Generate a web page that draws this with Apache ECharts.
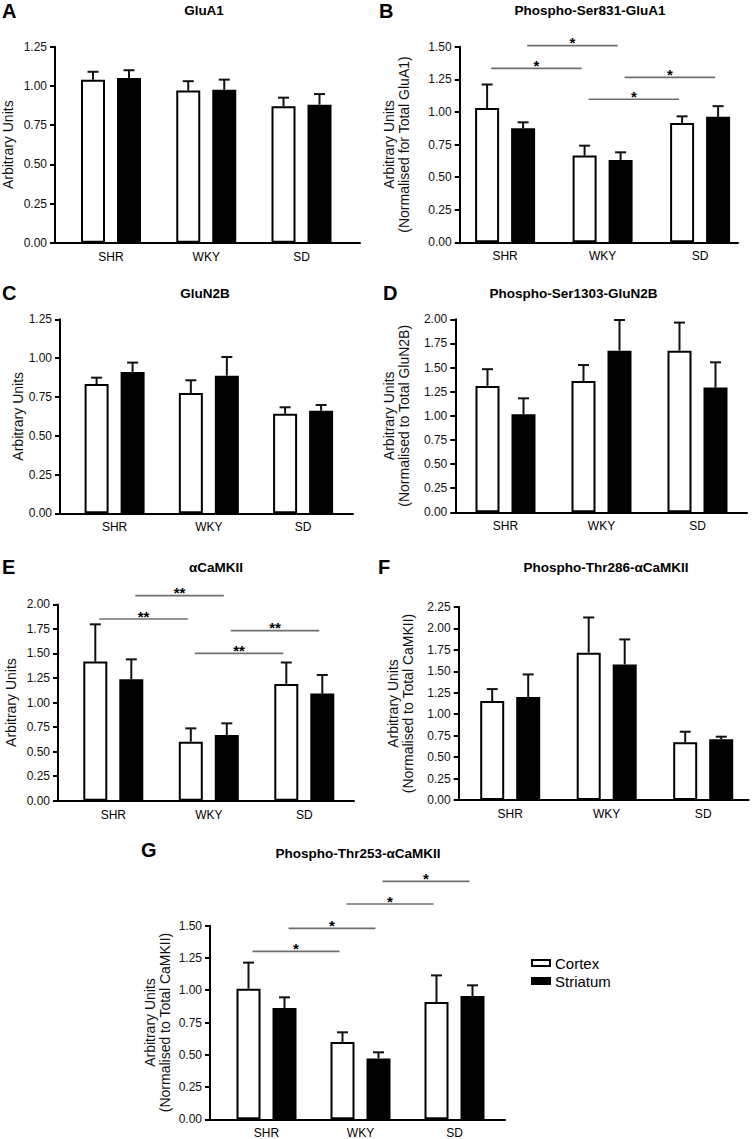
<!DOCTYPE html>
<html>
<head>
<meta charset="utf-8">
<script src="https://cdn.jsdelivr.net/npm/echarts@6/dist/echarts.min.js"></script>
<style>
html,body{margin:0;padding:0;background:#fff;}
#chart{width:754px;height:1139px;}
</style>
</head>
<body>
<div id="chart"></div>
<script>
// ---------------- DATA ----------------
const categories = ['SHR', 'WKY', 'SD'];
const seriesNames = ['Cortex', 'Striatum'];
const panelLetters = ['A', 'B', 'C', 'D', 'E', 'F', 'G'];
const panelTitles = [
  'GluA1',
  'Phospho-Ser831-GluA1',
  'GluN2B',
  'Phospho-Ser1303-GluN2B',
  '\u03b1CaMKII',
  'Phospho-Thr286-\u03b1CaMKII',
  'Phospho-Thr253-\u03b1CaMKII'
];
const yAxisTitles = [
  'Arbitrary Units',
  'Arbitrary Units\n(Normalised for Total GluA1)',
  'Arbitrary Units',
  'Arbitrary Units\n(Normalised to Total GluN2B)',
  'Arbitrary Units',
  'Arbitrary Units\n(Normalised to Total CaMKII)',
  'Arbitrary Units\n(Normalised to Total CaMKII)'
];
const yMaxValues = [1.25, 1.5, 1.25, 2.0, 2.0, 2.25, 1.5];
const yTickStep = 0.25;

const cortexMeans = [
  [1.04, 0.97, 0.87],
  [1.03, 0.665, 0.915],
  [0.833, 0.775, 0.642],
  [1.31, 1.36, 1.675],
  [1.417, 0.601, 1.19],
  [1.153, 1.717, 0.672],
  [1.012, 0.599, 0.909]
];
const cortexSEM = [
  [0.05, 0.06, 0.055],
  [0.18, 0.076, 0.051],
  [0.041, 0.082, 0.041],
  [0.173, 0.166, 0.291],
  [0.38, 0.136, 0.218],
  [0.14, 0.411, 0.124],
  [0.202, 0.075, 0.206]
];
const striatumMeans = [
  [1.05, 0.975, 0.88],
  [0.874, 0.631, 0.962],
  [0.911, 0.887, 0.661],
  [1.016, 1.675, 1.292],
  [1.237, 0.669, 1.091],
  [1.2, 1.58, 0.707],
  [0.862, 0.472, 0.955]
];
const striatumSEM = [
  [0.05, 0.065, 0.068],
  [0.046, 0.059, 0.082],
  [0.06, 0.12, 0.037],
  [0.165, 0.318, 0.262],
  [0.203, 0.119, 0.19],
  [0.264, 0.292, 0.031],
  [0.083, 0.047, 0.083]
];
// significance: [fromCategory, fromSeries(0 cortex,1 striatum), toCategory, toSeries, height, number of stars]
const significance = [
  [],
  [[0, 1, 1, 1, 1.508, 1], [0, 0, 1, 0, 1.334, 1], [1, 1, 2, 1, 1.265, 1], [1, 0, 2, 0, 1.097, 1]],
  [],
  [],
  [[0, 1, 1, 1, 2.089, 2], [0, 0, 1, 0, 1.851, 2], [1, 1, 2, 1, 1.732, 2], [1, 0, 2, 0, 1.502, 2]],
  [],
  [[1, 1, 2, 1, 1.843, 1], [1, 0, 2, 0, 1.668, 1], [0, 1, 1, 1, 1.479, 1], [0, 0, 1, 0, 1.301, 1]]
];

// ---------------- LAYOUT ----------------
const layout = [
  {axisX: 55,    xEnd: 360,   top: 46.7,  zero: 242.7,  c0: 111,   step: 95.25, tx: 204,   ty: 10,  lx: 2,   ly: 11,  yt: 7.5},
  {axisX: 459.7, xEnd: 738,   top: 46.7,  zero: 242.3,  c0: 505.1, step: 97.5,  tx: 590,   ty: 10,  lx: 379, ly: 11,  yt: 396.6},
  {axisX: 60,    xEnd: 353,   top: 319.3, zero: 513.3,  c0: 114.6, step: 94.25, tx: 205,   ty: 293, lx: 2,   ly: 293, yt: 17.5},
  {axisX: 455.3, xEnd: 747,   top: 319.3, zero: 512.3,  c0: 505.5, step: 96,    tx: 573.5, ty: 293, lx: 383, ly: 293, yt: 396.8},
  {axisX: 58,    xEnd: 354,   top: 604.4, zero: 800.7,  c0: 113.3, step: 95.5,  tx: 216,   ty: 567, lx: 2,   ly: 567, yt: 11},
  {axisX: 458.7, xEnd: 748.7, top: 607,   zero: 800,    c0: 510.2, step: 96.5,  tx: 606,   ty: 567, lx: 378, ly: 567, yt: 400.7},
  {axisX: 210,   xEnd: 505,   top: 925.7, zero: 1119.3, c0: 266.5, step: 94,    tx: 358,   ty: 853, lx: 141, ly: 850, yt: 157}
];

const FONT = "'Liberation Sans', Arial, Helvetica, sans-serif";
const BAR_WIDTH = 24;
const BAR_GAP = 0.5;
const BAR_OFFSET = BAR_WIDTH * (1 + BAR_GAP) / 2;
const CAP = 5.5;

function errRender(sign) {
  return function (params, api) {
    const base = api.coord([api.value(0), api.value(1)]);
    const tip = api.coord([api.value(0), api.value(1) + api.value(2)]);
    const x = base[0] + sign * BAR_OFFSET;
    return {
      type: 'group',
      children: [
        {type: 'line', shape: {x1: x, y1: base[1], x2: x, y2: tip[1]}, style: {stroke: '#111', lineWidth: 2}},
        {type: 'line', shape: {x1: x - CAP, y1: tip[1], x2: x + CAP, y2: tip[1]}, style: {stroke: '#111', lineWidth: 2}}
      ]
    };
  };
}

function sigRender(params, api) {
  const p1 = api.coord([api.value(0), api.value(4)]);
  const p2 = api.coord([api.value(2), api.value(4)]);
  const xa = p1[0] + (api.value(1) === 0 ? -1 : 1) * BAR_OFFSET + 4;
  const xb = p2[0] + (api.value(3) === 0 ? -1 : 1) * BAR_OFFSET - 3;
  const y = p1[1];
  const stars = '*'.repeat(api.value(5));
  return {
    type: 'group',
    children: [
      {type: 'line', shape: {x1: xa, y1: y, x2: xb, y2: y}, style: {stroke: '#6f6f6f', lineWidth: 1.7}},
      {type: 'text', x: (xa + xb) / 2, y: y - 3,
       style: {text: stars, x: 0, y: 0, align: 'center', verticalAlign: 'middle',
               textAlign: 'center', textVerticalAlign: 'middle',
               font: 'bold 15px ' + FONT, fill: '#000'}}
    ]
  };
}

const grids = [], xAxes = [], yAxes = [], series = [], graphics = [];

layout.forEach(function (L, i) {
  const fg = i * 2, bg = i * 2 + 1;
  const h = L.zero - L.top;
  grids.push({left: L.axisX, top: L.top, width: L.xEnd - L.axisX, height: h, outerBoundsMode: 'none', containLabel: false});
  grids.push({left: L.c0 - L.step / 2, top: L.top, width: L.step * 3, height: h, outerBoundsMode: 'none', containLabel: false});

  xAxes.push({gridIndex: fg, type: 'value', min: 0, max: 1, axisLine: {show: true, onZero: false, lineStyle: {color: '#000', width: 2}},
              axisTick: {show: false}, axisLabel: {show: false}, splitLine: {show: false}});
  xAxes.push({gridIndex: bg, type: 'category', data: categories, axisLine: {show: false}, axisTick: {show: false},
              axisLabel: {fontSize: 12, color: '#000', margin: 8, fontFamily: FONT}, splitLine: {show: false}});

  yAxes.push({gridIndex: fg, type: 'value', min: 0, max: yMaxValues[i], interval: yTickStep,
              axisLine: {show: true, onZero: false, lineStyle: {color: '#000', width: 2}},
              axisTick: {show: true, length: 5, lineStyle: {color: '#000', width: 2}},
              axisLabel: {fontSize: 12, color: '#111', margin: 8, fontFamily: FONT, formatter: function (v) { return v.toFixed(2); }},
              splitLine: {show: false}});
  yAxes.push({gridIndex: bg, type: 'value', min: 0, max: yMaxValues[i], interval: yTickStep, show: false, splitLine: {show: false}});

  series.push({
    name: seriesNames[0], type: 'bar', xAxisIndex: bg, yAxisIndex: bg,
    data: cortexMeans[i], barWidth: BAR_WIDTH, barGap: (BAR_GAP * 100) + '%',
    itemStyle: {color: '#fff', borderColor: '#000', borderWidth: 2}, z: 2, animation: false
  });
  series.push({
    name: seriesNames[1], type: 'bar', xAxisIndex: bg, yAxisIndex: bg,
    data: striatumMeans[i], barWidth: BAR_WIDTH, barGap: (BAR_GAP * 100) + '%',
    itemStyle: {color: '#000', borderColor: '#000', borderWidth: 2}, z: 2, animation: false
  });
  series.push({
    type: 'custom', xAxisIndex: bg, yAxisIndex: bg, z: 3, clip: false, silent: true,
    encode: {x: 0, y: 1},
    data: cortexMeans[i].map(function (m, k) { return [k, m, cortexSEM[i][k]]; }),
    renderItem: errRender(-1)
  });
  series.push({
    type: 'custom', xAxisIndex: bg, yAxisIndex: bg, z: 3, clip: false, silent: true,
    encode: {x: 0, y: 1},
    data: striatumMeans[i].map(function (m, k) { return [k, m, striatumSEM[i][k]]; }),
    renderItem: errRender(1)
  });
  if (significance[i].length) {
    series.push({
      type: 'custom', xAxisIndex: bg, yAxisIndex: bg, z: 4, clip: false, silent: true,
      encode: {x: 0, y: 4},
      data: significance[i],
      renderItem: sigRender
    });
  }

  // panel letter
  graphics.push({type: 'text', x: L.lx, y: L.ly,
    style: {text: panelLetters[i], x: 0, y: 0, align: 'left', verticalAlign: 'middle', textAlign: 'left', textVerticalAlign: 'middle',
            font: 'bold 20px ' + FONT, fill: '#000'}});
  // panel title
  graphics.push({type: 'text', x: L.tx, y: L.ty,
    style: {text: panelTitles[i], x: 0, y: 0, align: 'center', verticalAlign: 'middle', textAlign: 'center', textVerticalAlign: 'middle',
            font: 'bold 13.5px ' + FONT, fill: '#000'}});
  // y-axis title
  graphics.push({type: 'text', x: L.yt, y: (L.top + L.zero) / 2, rotation: Math.PI / 2,
    style: {text: yAxisTitles[i], x: 0, y: 0, align: 'center', verticalAlign: 'middle', textAlign: 'center', textVerticalAlign: 'middle',
            font: '14px ' + FONT, lineHeight: 15, fill: '#111'}});
});

const chart = echarts.init(document.getElementById('chart'), null, {renderer: 'svg', width: 754, height: 1139});
chart.setOption({
  backgroundColor: '#fff',
  animation: false,
  textStyle: {fontFamily: FONT},
  grid: grids,
  xAxis: xAxes,
  yAxis: yAxes,
  series: series,
  graphic: graphics,
  legend: {
    orient: 'vertical', left: 531, top: 955.5, padding: 0, itemWidth: 18, itemHeight: 6, itemGap: 3,
    icon: 'rect', selectedMode: false,
    textStyle: {fontSize: 15, color: '#000', fontFamily: FONT},
    data: [
      {name: seriesNames[0], itemStyle: {color: '#fff', borderColor: '#000', borderWidth: 2}},
      {name: seriesNames[1], itemStyle: {color: '#000', borderColor: '#000', borderWidth: 2}}
    ]
  }
});
</script>
</body>
</html>
